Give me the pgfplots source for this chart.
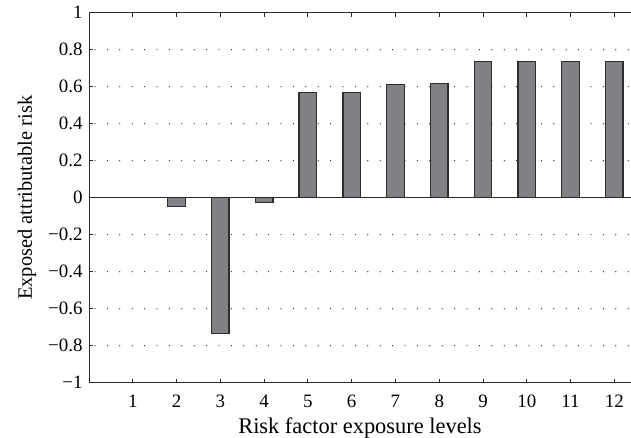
\documentclass[border=0pt]{standalone}
\usepackage{pgfplots}
\pgfplotsset{compat=1.18}
\usepackage{fontspec}
\setmainfont{Liberation Serif}
\definecolor{barfill}{RGB}{128,129,133}
\definecolor{baredge}{RGB}{45,45,45}
\definecolor{axcol}{RGB}{40,40,40}
\begin{document}
\begin{tikzpicture}
\begin{axis}[
  at={(0,0)}, anchor=south west,
  scale only axis,
  width=542bp, height=370bp,
  xmin=0, xmax=12.38,
  ymin=-1, ymax=1,
  axis x line*=box,
  axis y line*=left,
  axis line style={axcol, line width=1pt},
  xtick={1,2,3,4,5,6,7,8,9,10,11,12},
  ytick={-1,-0.8,-0.6,-0.4,-0.2,0,0.2,0.4,0.6,0.8,1},
  yticklabels={−1,−0.8,−0.6,−0.4,−0.2,0,0.2,0.4,0.6,0.8,1},
  tick align=inside,
  major tick length=4bp,
  tick style={axcol, line width=0.9pt},
  xtick pos=both,
  /pgf/number format/assume math mode=true,
  tick label style={font=\fontsize{19}{22}\selectfont},
  xlabel style={font=\fontsize{22.5}{26}\selectfont, yshift=-3bp},
  ylabel style={font=\fontsize{20.5}{24}\selectfont, yshift=5bp},
  xticklabel style={yshift=-9bp},
  yticklabel style={xshift=-3bp},
  xlabel={Risk factor exposure levels},
  ylabel={Exposed attributable risk},
  clip=false,
]
\foreach \yy in {-0.8,-0.6,-0.4,-0.2,0.2,0.4,0.6,0.8}{
  \edef\tmp{\noexpand\draw[black!85, line width=1.3pt, line cap=round, dash pattern=on 0pt off 12.4bp, dash phase=-6bp] (axis cs:0,\yy) -- (axis cs:12.38,\yy);}
  \tmp
}
\addplot[ybar, bar width=0.4, fill=barfill, draw=baredge, line width=1.3pt] coordinates {
(1,0.002) (2,-0.049) (3,-0.733) (4,-0.025) (5,0.570) (6,0.570)
(7,0.613) (8,0.618) (9,0.735) (10,0.735) (11,0.735) (12,0.735)
};
\draw[axcol, line width=1pt] (axis cs:0,0) -- (axis cs:12.38,0);
\end{axis}
\pgfresetboundingbox
\path (-89bp,-55.3bp) rectangle (542bp,382.7bp);
\end{tikzpicture}
\end{document}
